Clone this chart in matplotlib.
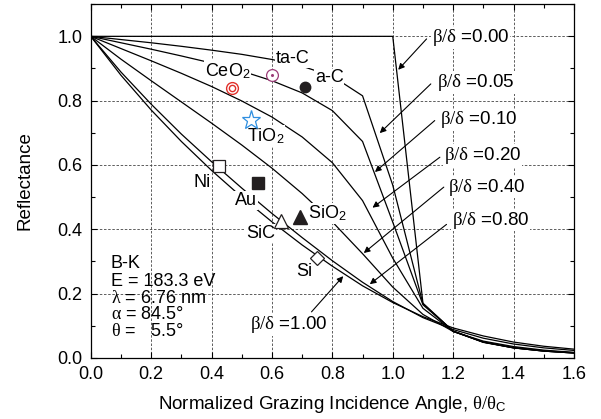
import numpy as np
import matplotlib
matplotlib.use("Agg")
import matplotlib.pyplot as plt
from matplotlib.ticker import MultipleLocator

plt.rcParams['font.family'] = ['Liberation Sans', 'DejaVu Sans']
plt.rcParams['mathtext.fontset'] = 'custom'
plt.rcParams['mathtext.rm'] = 'Liberation Serif'
plt.rcParams['mathtext.it'] = 'Liberation Serif'
plt.rcParams['mathtext.sf'] = 'Liberation Sans'

# normalized angle theta/theta_c
angle = [0.0, 0.1, 0.2, 0.3, 0.4, 0.5, 0.6, 0.7, 0.8, 0.9, 1.0,
         1.1, 1.2, 1.3, 1.4, 1.5, 1.6]

# reflectance curves for each beta/delta ratio
refl = {
    '0.00': [1.0, 1.0, 1.0, 1.0, 1.0, 1.0, 1.0, 1.0, 1.0, 1.0, 1.0,
             0.170, 0.083, 0.048, 0.031, 0.021, 0.015],
    '0.05': [1.0, 0.990, 0.980, 0.969, 0.957, 0.944, 0.928, 0.907, 0.876, 0.815, 0.537,
             0.168, 0.083, 0.049, 0.031, 0.021, 0.015],
    '0.10': [1.0, 0.980, 0.960, 0.939, 0.917, 0.892, 0.862, 0.824, 0.769, 0.673, 0.422,
             0.165, 0.083, 0.049, 0.031, 0.021, 0.015],
    '0.20': [1.0, 0.962, 0.924, 0.885, 0.844, 0.799, 0.749, 0.687, 0.607, 0.489, 0.310,
             0.154, 0.082, 0.049, 0.032, 0.022, 0.016],
    '0.40': [1.0, 0.929, 0.862, 0.796, 0.730, 0.662, 0.590, 0.511, 0.423, 0.324, 0.220,
             0.135, 0.082, 0.052, 0.035, 0.024, 0.017],
    '0.80': [1.0, 0.889, 0.789, 0.696, 0.610, 0.528, 0.449, 0.374, 0.302, 0.235, 0.175,
             0.125, 0.088, 0.061, 0.043, 0.031, 0.023],
    '1.00': [1.0, 0.879, 0.771, 0.673, 0.583, 0.500, 0.423, 0.351, 0.285, 0.224, 0.172,
             0.128, 0.093, 0.068, 0.049, 0.036, 0.027],
}

# materials: name, x, y
mat_names = ['ta-C', 'a-C', 'CeO2', 'TiO2', 'Ni', 'Au', 'SiO2', 'SiC', 'Si']
mat_x = [0.600, 0.710, 0.467, 0.529, 0.424, 0.553, 0.694, 0.631, 0.748]
mat_y = [0.880, 0.841, 0.840, 0.741, 0.598, 0.545, 0.438, 0.427, 0.309]

fig = plt.figure(figsize=(6.01, 4.19), dpi=100)
ax = fig.add_axes([0.151, 0.146, 0.804, 0.844])

for k, r in refl.items():
    ax.plot(angle, r, color='k', lw=0.9, zorder=3)

dark = '#231f20'
mk = dict(ls='none', zorder=5)
ax.plot(mat_x[0], mat_y[0], marker='o', ms=8.5, mfc='white', mec='#9c3d78', mew=0.9, **mk)
ax.plot(mat_x[0], mat_y[0], marker='o', ms=1.2, mfc='#9c3d78', mec='#9c3d78', **mk)
ax.plot(mat_x[1], mat_y[1], marker='o', ms=7.5, mfc=dark, mec=dark, **mk)
ax.plot(mat_x[2], mat_y[2], marker='o', ms=8.5, mfc='white', mec='#e0302a', mew=1.0, **mk)
ax.plot(mat_x[2], mat_y[2], marker='o', ms=4.5, mfc='white', mec='#e0302a', mew=1.0, **mk)
ax.plot(mat_x[3], mat_y[3], marker='*', ms=14, mfc='white', mec='#2f8fe0', mew=0.9, **mk)
ax.plot(mat_x[4], mat_y[4], marker='s', ms=8, mfc='white', mec=dark, mew=0.9, **mk)
ax.plot(mat_x[5], mat_y[5], marker='s', ms=8, mfc=dark, mec=dark, **mk)
ax.plot(mat_x[6], mat_y[6], marker='^', ms=10, mfc=dark, mec=dark, **mk)
ax.plot(mat_x[7], mat_y[7], marker='^', ms=10, mfc='white', mec=dark, mew=0.9, **mk)
ax.plot(mat_x[8], mat_y[8], marker='D', ms=7, mfc='white', mec=dark, mew=0.9, **mk)

wb = dict(facecolor='white', edgecolor='none', pad=0.5)
fs = 13
# material labels (left x, center y)
mat_labels = [
    ('ta-C', 0.612, 0.930),
    ('CeO$_\\mathsf{2}$', 0.378, 0.893),
    ('a-C', 0.742, 0.871),
    ('TiO$_\\mathsf{2}$', 0.517, 0.691),
    ('Ni', 0.339, 0.546),
    ('Au', 0.478, 0.490),
    ('SiO$_\\mathsf{2}$', 0.719, 0.449),
    ('SiC', 0.514, 0.387),
    ('Si', 0.679, 0.269),
]
for txt, tx, ty in mat_labels:
    ax.text(tx, ty, txt, fontsize=fs, ha='left', va='center', bbox=wb, zorder=4)

# beta/delta labels and arrows
bd_labels = [
    ('0.00', 1.129, 0.995, (1.112, 0.992), (1.018, 0.896)),
    ('0.05', 1.145, 0.857, (1.126, 0.852), (0.957, 0.699)),
    ('0.10', 1.156, 0.740, (1.139, 0.738), (0.941, 0.578)),
    ('0.20', 1.169, 0.630, (1.156, 0.624), (0.933, 0.467)),
    ('0.40', 1.182, 0.531, (1.169, 0.531), (0.904, 0.326)),
    ('0.80', 1.195, 0.428, (1.178, 0.415), (0.924, 0.229)),
    ('1.00', 0.527, 0.104, (0.731, 0.143), (0.836, 0.254)),
]
for val, tx, ty, start, tip in bd_labels:
    ax.text(tx, ty, r'$\beta/\delta$ =' + val, fontsize=13.5, ha='left', va='center',
            bbox=wb, zorder=6)
    ax.annotate('', xy=tip, xytext=start,
                arrowprops=dict(arrowstyle='-|>', color='k', lw=0.8,
                                mutation_scale=9, shrinkA=0, shrinkB=0),
                zorder=6)

info = ['B-K', 'E = 183.3 eV', r'$\lambda$ = 6.76 nm', r'$\alpha$ = 84.5°',
        r'$\theta$ =   5.5°']
info_y = [0.294, 0.238, 0.186, 0.134, 0.083]
for s, yy in zip(info, info_y):
    ax.text(0.066, yy, s, fontsize=fs, ha='left', va='center', zorder=4)

ax.set_xlim(0, 1.6)
ax.set_ylim(0, 1.1)
ax.set_xticks(np.arange(0, 1.61, 0.2))
ax.set_yticks(np.arange(0, 1.01, 0.2))
ax.xaxis.set_minor_locator(MultipleLocator(0.1))
ax.yaxis.set_minor_locator(MultipleLocator(0.1))
ax.set_xticklabels(['%.1f' % v for v in np.arange(0, 1.61, 0.2)])
ax.set_yticklabels(['%.1f' % v for v in np.arange(0, 1.01, 0.2)])
ax.tick_params(which='both', direction='in', top=True, right=True,
               labelsize=13, pad=6, width=0.8)
ax.tick_params(which='major', length=4)
ax.tick_params(which='minor', length=3)
ax.grid(True, which='major', ls=(0, (3, 2)), lw=0.6, color='#444444', zorder=1)
for sp in ax.spines.values():
    sp.set_linewidth(0.9)

ax.set_xlabel(r'Normalized Grazing Incidence Angle, $\theta/\theta_\mathsf{C}$',
              fontsize=13.5, labelpad=8)
ax.set_ylabel('Reflectance', fontsize=13.5, labelpad=17)

fig.savefig('out.png', dpi=100)
